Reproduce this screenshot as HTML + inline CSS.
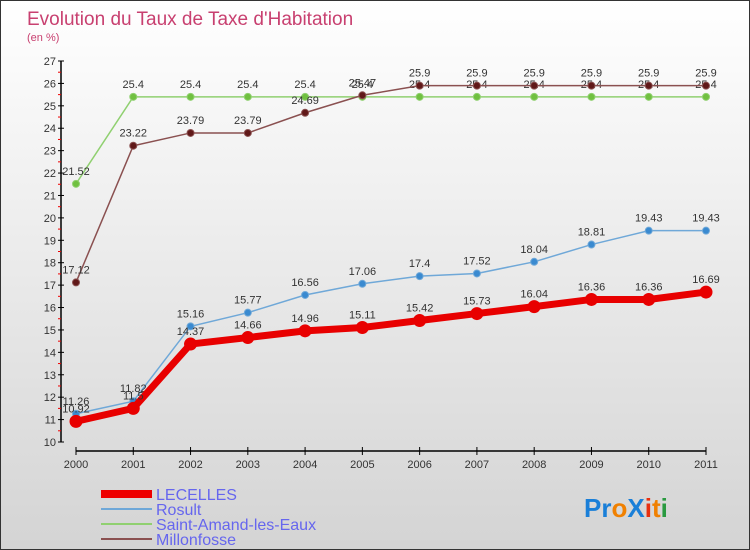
<!DOCTYPE html>
<html><head><meta charset="utf-8"><style>
body{margin:0}
#c{width:750px;height:550px;position:relative;box-sizing:border-box;border:1px solid #333;background:linear-gradient(#fff,#d4d4d4);font-family:"Liberation Sans",sans-serif;overflow:hidden}
</style></head><body>
<div id="c">
<svg id="s" width="750" height="550" style="position:absolute;left:0;top:0">
<text x="26" y="24" font-size="19" fill="#c84070" font-weight="300">Evolution du Taux de Taxe d'Habitation</text>
<text x="26" y="40" font-size="11" fill="#c84070">(en %)</text>
<g id="ax"></g><g id="plot"></g>
<g>
<rect x="100" y="489" width="51" height="8" fill="#e00"/>
<text x="155" y="499" font-size="16" fill="#6666ee">LECELLES</text>
<line x1="100" y1="508" x2="151" y2="508" stroke="#6fa8d8" stroke-width="2"/>
<text x="155" y="514" font-size="16" fill="#6666ee">Rosult</text>
<line x1="100" y1="523" x2="151" y2="523" stroke="#90d070" stroke-width="2"/>
<text x="155" y="529" font-size="16" fill="#6666ee">Saint-Amand-les-Eaux</text>
<line x1="100" y1="538" x2="151" y2="538" stroke="#8a5050" stroke-width="2"/>
<text x="155" y="544" font-size="16" fill="#6666ee">Millonfosse</text>
</g>
<text x="583" y="516" font-size="26" font-weight="bold"><tspan fill="#1a7fd8">Pr</tspan><tspan fill="#f08000">o</tspan><tspan fill="#1a7fd8">X</tspan><tspan fill="#e83010">i</tspan><tspan fill="#f08000">t</tspan><tspan fill="#2a9a40">i</tspan></text>
</svg>
</div>
<script>
const years=[2000,2001,2002,2003,2004,2005,2006,2007,2008,2009,2010,2011];
const lecelles=[10.92,11.5,14.37,14.66,14.96,15.11,15.42,15.73,16.04,16.36,16.36,16.69];
const lecellesLabels=["10.92","11.5","14.37","14.66","14.96","15.11","15.42","15.73","16.04","16.36","16.36","16.69"];
const rosult=[11.26,11.82,15.16,15.77,16.56,17.06,17.4,17.52,18.04,18.81,19.43,19.43];
const saintAmand=[21.52,25.4,25.4,25.4,25.4,25.4,25.4,25.4,25.4,25.4,25.4,25.4];
const millonfosse=[17.12,23.22,23.79,23.79,24.69,25.47,25.9,25.9,25.9,25.9,25.9,25.9];
const yTicks=[10,11,12,13,14,15,16,17,18,19,20,21,22,23,24,25,26,27];
const NS="http://www.w3.org/2000/svg";
const X=i=>75+i*(630/11), Y=v=>441-(v-10)*(381/17);
function mk(p,t,a){const e=document.createElementNS(NS,t);for(const k in a)e.setAttribute(k,a[k]);p.appendChild(e);return e;}
const ax=document.getElementById('ax'),plot=document.getElementById('plot');
let e=mk(ax,'line',{x1:60,y1:Y(27),x2:60,y2:Y(10),stroke:'#000','stroke-width':1.5});


e=mk(ax,'line',{x1:X(0),y1:450,x2:X(11),y2:450,stroke:'#000','stroke-width':1.5});


yTicks.forEach(v=>{
 mk(ax,'line',{x1:57,y1:Y(v),x2:63,y2:Y(v),stroke:'#000'});
 if(v<27)mk(ax,'line',{x1:57,y1:Y(v+0.5),x2:60,y2:Y(v+0.5),stroke:'#e00'});
 const t=mk(ax,'text',{x:55,y:Y(v)+4,'font-size':11,fill:'#333','text-anchor':'end'});t.textContent=v;
 
 
});
years.forEach((y,i)=>{
 mk(ax,'line',{x1:X(i),y1:446,x2:X(i),y2:454,stroke:'#000'});
 const t=mk(ax,'text',{x:X(i),y:467,'font-size':11,fill:'#333','text-anchor':'middle'});t.textContent=y;
 
 
});
function series(d,labels,name,col,dot,w,r){
 const g=mk(plot,'g',{});
 
 
 mk(g,'polyline',{points:d.map((v,i)=>X(i)+','+Y(v)).join(' '),fill:'none',stroke:col,'stroke-width':w});
 d.forEach((v,i)=>{
  const c=mk(g,'circle',{cx:X(i),cy:Y(v),r:r,fill:dot,stroke:col,'stroke-width':1});
  
  
  const t=mk(g,'text',{x:X(i),y:Y(v)-9,'font-size':11,fill:'#333','text-anchor':'middle'});
  t.textContent=labels?labels[i]:String(v);
 });
}
series(saintAmand,null,'saint-amand','#90d070','#70c040',1.5,3.5);
series(millonfosse,null,'millonfosse','#8a5050','#601818',1.5,3.5);
series(rosult,null,'rosult','#6fa8d8','#3a8ad0',1.5,3.5);
series(lecelles,lecellesLabels,'lecelles','#e80000','#e80000',7,6);
</script>
</body></html>
